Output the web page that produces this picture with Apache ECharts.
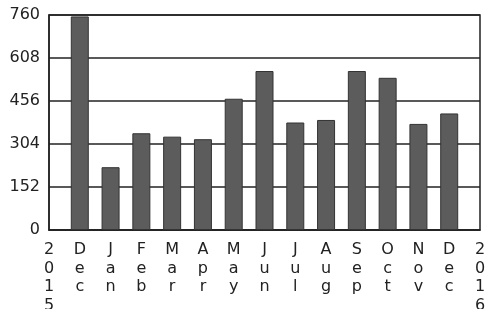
<!DOCTYPE html>
<html>
<head>
<meta charset="utf-8">
<script src="https://cdn.jsdelivr.net/npm/echarts@6/dist/echarts.min.js"></script>
<style>
  html, body { margin: 0; padding: 0; background: #fff; }
  #chart { width: 487px; height: 309px; }
</style>
</head>
<body>
<div id="chart"></div>
<script>
var months = ['2015', 'Dec', 'Jan', 'Feb', 'Mar', 'Apr', 'May', 'Jun', 'Jul', 'Aug', 'Sep', 'Oct', 'Nov', 'Dec', '2016'];
var values = ['-', 755, 222, 342, 330, 321, 464, 562, 380, 389, 562, 538, 375, 412, '-'];
var yTicks = [0, 152, 304, 456, 608, 760];

var chartDom = document.getElementById('chart');
var myChart = echarts.init(chartDom);
var option;

option = {
    animation: false,
    textStyle: { fontFamily: 'DejaVu Sans' },
    grid: {
        left: 49, right: 7, top: 15, bottom: 79,
        outerBoundsMode: 'none',
        containLabel: false,
        show: true, borderColor: '#222', borderWidth: 1.5
    },
    xAxis: {
        type: 'category',
        data: months,
        boundaryGap: false,
        axisLine: { lineStyle: { color: '#222', width: 1.5 } },
        axisTick: { show: false },
        axisLabel: {
            interval: 0,
            margin: 11,
            color: '#222',
            fontSize: 16,
            lineHeight: 18.5,
            verticalAlign: 'top',
            formatter: function (v) { return v.split('').join('\n'); }
        }
    },
    yAxis: {
        type: 'value',
        min: yTicks[0],
        max: yTicks[yTicks.length - 1],
        interval: 152,
        axisLine: { show: true, lineStyle: { color: '#222', width: 1.5 } },
        axisTick: { show: false },
        splitLine: { lineStyle: { color: '#222', width: 1.5 } },
        axisLabel: { color: '#222', fontSize: 16, margin: 9 }
    },
    series: [{
        type: 'bar',
        data: values,
        barWidth: 18,
        itemStyle: { color: '#5c5c5c', borderColor: '#333', borderWidth: 1 }
    }]
};

option && myChart.setOption(option);
</script>
</body>
</html>
